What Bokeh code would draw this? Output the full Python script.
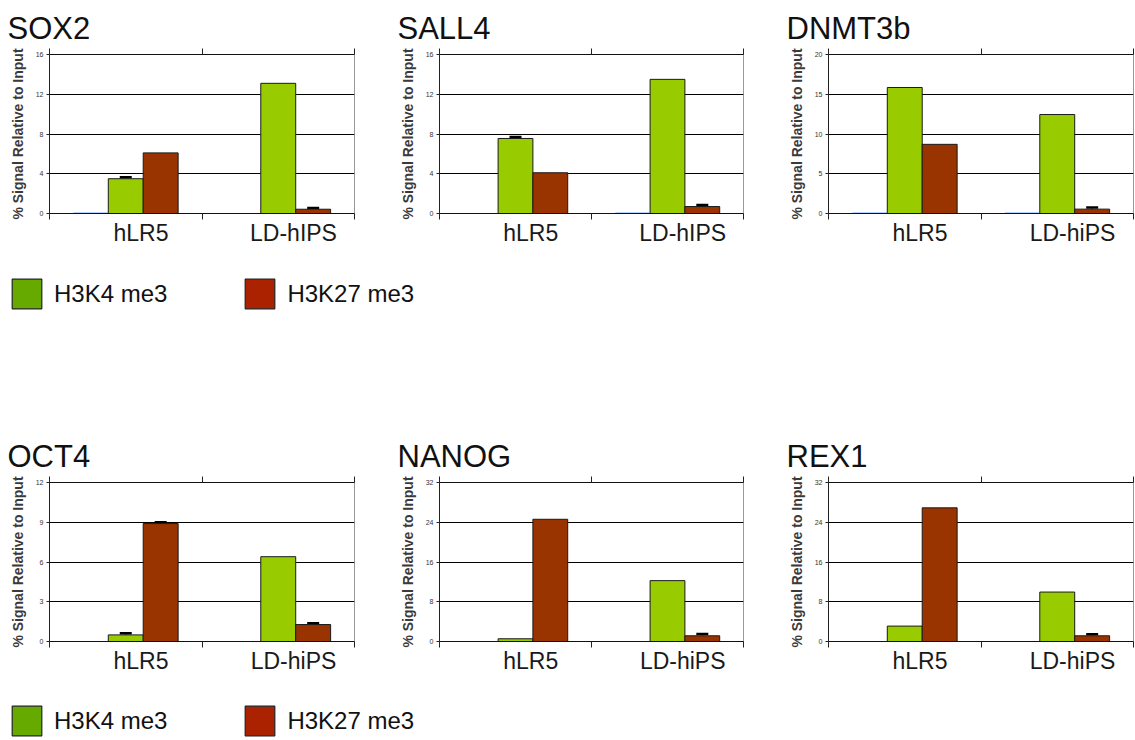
from bokeh.plotting import figure
from bokeh.layouts import column, row
from bokeh.models import (FixedTicker, Legend, LegendItem, Whisker, LinearAxis,
                          ColumnDataSource, TeeHead, Range1d)
from bokeh.transform import dodge
from bokeh.embed import file_html
from bokeh.resources import INLINE

FONT = "Liberation Sans"

# ---------------- data ----------------
cats_ips_upper = ["hLR5", "LD-hIPS"]
cats_ips_lower = ["hLR5", "LD-hiPS"]
series_names = ["H3K4 me3", "H3K27 me3"]

sox2_ctrl = [0.1, 0.0]
sox2_k4 = [3.5, 13.1]
sox2_k27 = [6.1, 0.43]
sox2_k4_err = [0.15, 0.0]
sox2_k27_err = [0.0, 0.13]

sall4_ctrl = [0.0, 0.1]
sall4_k4 = [7.55, 13.5]
sall4_k27 = [4.1, 0.7]
sall4_k4_err = [0.15, 0.0]
sall4_k27_err = [0.0, 0.15]

dnmt3b_ctrl = [0.12, 0.12]
dnmt3b_k4 = [15.85, 12.45]
dnmt3b_k27 = [8.7, 0.55]
dnmt3b_k4_err = [0.0, 0.0]
dnmt3b_k27_err = [0.0, 0.2]

oct4_ctrl = [0.0, 0.0]
oct4_k4 = [0.5, 6.4]
oct4_k27 = [8.9, 1.28]
oct4_k4_err = [0.12, 0.0]
oct4_k27_err = [0.1, 0.1]

nanog_ctrl = [0.0, 0.0]
nanog_k4 = [0.55, 12.25]
nanog_k27 = [24.6, 1.15]
nanog_k4_err = [0.0, 0.0]
nanog_k27_err = [0.0, 0.35]

rex1_ctrl = [0.0, 0.0]
rex1_k4 = [3.1, 9.95]
rex1_k27 = [26.9, 1.15]
rex1_k4_err = [0.0, 0.0]
rex1_k27_err = [0.0, 0.3]

y_max = {"SOX2": 16, "SALL4": 16, "DNMT3b": 20, "OCT4": 12, "NANOG": 32, "REX1": 32}
y_step = {"SOX2": 4, "SALL4": 4, "DNMT3b": 5, "OCT4": 3, "NANOG": 8, "REX1": 8}

# ---------------- style ----------------
GREEN = "#99CC00"
BROWN = "#993300"
BLUE = "#6FA8FF"
LEG_GREEN = "#66AA00"
LEG_BROWN = "#AA2200"
BAR_W = 0.229
LABEL_SHIFT = 0.1   # category labels sit slightly right of the group centre


def panel(gene, cats, ctrl, k4, k27, k4_err, k27_err, width, border_right):
    ymax = y_max[gene]
    step = y_step[gene]
    p = figure(width=width, height=253, x_range=Range1d(0, 2), y_range=Range1d(0, ymax),
               toolbar_location=None, output_backend="svg", title=gene,
               min_border_left=49, min_border_right=border_right,
               min_border_top=54, min_border_bottom=40)
    p.title.text_font = FONT
    p.title.text_font_size = "31px"
    p.title.text_font_style = "normal"
    p.title.text_color = "#111111"
    p.title.align = "left"
    p.title.vertical_align = "top"
    p.title.offset = -42
    p.title.standoff = 2

    # invisible spacer axis between frame and title (lifts the title a little)
    spacer = LinearAxis(ticker=FixedTicker(ticks=[1]), axis_line_color=None,
                        major_tick_line_color=None, minor_tick_line_color=None,
                        major_tick_out=0, major_tick_in=0, major_label_standoff=0,
                        major_label_text_alpha=0, major_label_text_font_size="5px")
    p.add_layout(spacer, "above")

    xs = [i + 0.5 for i in range(len(cats))]
    src = ColumnDataSource(dict(x=xs, ctrl=ctrl, k4=k4, k27=k27))
    p.vbar(x=dodge("x", -BAR_W, range=p.x_range), top="ctrl", width=BAR_W, source=src,
           fill_color=BLUE, line_color=None)
    p.vbar(x=dodge("x", 0.0, range=p.x_range), top="k4", width=BAR_W, source=src,
           fill_color=GREEN, line_color="#1a1a1a", line_width=1)
    p.vbar(x=dodge("x", BAR_W, range=p.x_range), top="k27", width=BAR_W, source=src,
           fill_color=BROWN, line_color="#1a1a1a", line_width=1)

    # error bars
    ex, lo, up = [], [], []
    for off, vals, errs in ((0.0, k4, k4_err), (BAR_W, k27, k27_err)):
        for i, (v, e) in enumerate(zip(vals, errs)):
            if e > 0:
                ex.append(xs[i] + off)
                lo.append(v)
                up.append(v + e)
    if ex:
        esrc = ColumnDataSource(dict(x=ex, lower=lo, upper=up))
        p.add_layout(Whisker(source=esrc, base="x", lower="lower", upper="upper",
                             dimension="height", line_color="black", line_width=1,
                             upper_head=TeeHead(size=12, line_width=2.5, line_color="black"),
                             lower_head=None))

    # y axis
    p.yaxis.ticker = FixedTicker(ticks=list(range(0, ymax + 1, step)))
    p.yaxis.axis_line_color = "#222222"
    p.yaxis.major_tick_out = 3
    p.yaxis.major_tick_in = 0
    p.yaxis.major_tick_line_color = "#222222"
    p.yaxis.minor_tick_line_color = None
    p.yaxis.major_label_text_font = FONT
    p.yaxis.major_label_text_font_size = "7px"
    p.yaxis.major_label_text_color = "#333333"
    p.yaxis.major_label_standoff = 3
    p.yaxis.axis_label = "% Signal Relative to Input"
    p.yaxis.axis_label_text_font = FONT
    p.yaxis.axis_label_text_font_style = "bold"
    p.yaxis.axis_label_text_font_size = "14px"
    p.yaxis.axis_label_text_color = "#3a3a3a"
    p.yaxis.axis_label_standoff = 7

    # x axis: boundary ticks only
    p.xaxis.ticker = FixedTicker(ticks=[0, 1, 2])
    p.xaxis.axis_line_color = "#111111"
    p.xaxis.major_tick_out = 6
    p.xaxis.major_tick_in = 0
    p.xaxis.major_tick_line_color = "#222222"
    p.xaxis.minor_tick_line_color = None
    p.xaxis.major_label_text_alpha = 0
    p.xaxis.major_label_text_font_size = "1px"
    p.xaxis.major_label_standoff = 0

    # second axis carrying the category names
    p.extra_x_ranges = {"lab": Range1d(-0.5 - LABEL_SHIFT, len(cats) - 0.5 - LABEL_SHIFT)}
    lab_axis = LinearAxis(x_range_name="lab",
                          ticker=FixedTicker(ticks=list(range(len(cats)))),
                          major_label_overrides={i: c for i, c in enumerate(cats)},
                          axis_line_color=None, major_tick_line_color=None,
                          minor_tick_line_color=None, major_label_standoff=-6,
                          major_label_text_font=FONT, major_label_text_font_size="23px",
                          major_label_text_color="#1a1a1a")
    p.add_layout(lab_axis, "below")

    p.ygrid.ticker = FixedTicker(ticks=list(range(step, ymax, step)))
    p.ygrid.grid_line_color = "black"
    p.ygrid.grid_line_width = 1
    p.xgrid.visible = False
    p.outline_line_color = "#9a9a9a"
    return p


def legend_fig(height, top_gap):
    f = figure(width=1120, height=height, toolbar_location=None, output_backend="svg",
               min_border=0, x_range=(0, 1), y_range=(0, 1))
    f.axis.visible = False
    f.grid.visible = False
    f.outline_line_color = None
    # legend proxies with no drawable data
    nan = float("nan")
    r1 = f.vbar(x=[nan], top=[nan], width=1, fill_color=LEG_GREEN, line_color="#222222", line_width=1.2)
    r2 = f.vbar(x=[nan], top=[nan], width=1, fill_color=LEG_BROWN, line_color="#222222", line_width=1.2)
    leg = Legend(items=[LegendItem(label=series_names[0], renderers=[r1]),
                        LegendItem(label=series_names[1], renderers=[r2])],
                 orientation="horizontal", location=(8, height - top_gap - 34),
                 margin=0, padding=0, spacing=74, glyph_width=37, glyph_height=37,
                 label_standoff=9, label_height=37,
                 label_text_font=FONT, label_text_font_size="24px", label_text_color="#111111",
                 border_line_color=None, background_fill_alpha=0)
    f.add_layout(leg)
    return f


p1 = panel("SOX2", cats_ips_upper, sox2_ctrl, sox2_k4, sox2_k27, sox2_k4_err, sox2_k27_err, 390, 36)
p2 = panel("SALL4", cats_ips_upper, sall4_ctrl, sall4_k4, sall4_k27, sall4_k4_err, sall4_k27_err, 389, 36)
p3 = panel("DNMT3b", cats_ips_lower, dnmt3b_ctrl, dnmt3b_k4, dnmt3b_k27, dnmt3b_k4_err, dnmt3b_k27_err, 355, 1)
p4 = panel("OCT4", cats_ips_lower, oct4_ctrl, oct4_k4, oct4_k27, oct4_k4_err, oct4_k27_err, 390, 36)
p5 = panel("NANOG", cats_ips_lower, nanog_ctrl, nanog_k4, nanog_k27, nanog_k4_err, nanog_k27_err, 389, 36)
p6 = panel("REX1", cats_ips_lower, rex1_ctrl, rex1_k4, rex1_k27, rex1_k4_err, rex1_k27_err, 355, 1)

leg1 = legend_fig(175, 25)
leg2 = legend_fig(58, 24)

layout = column(row(p1, p2, p3), leg1, row(p4, p5, p6), leg2)

open("out.html", "w").write(file_html(layout, INLINE))
